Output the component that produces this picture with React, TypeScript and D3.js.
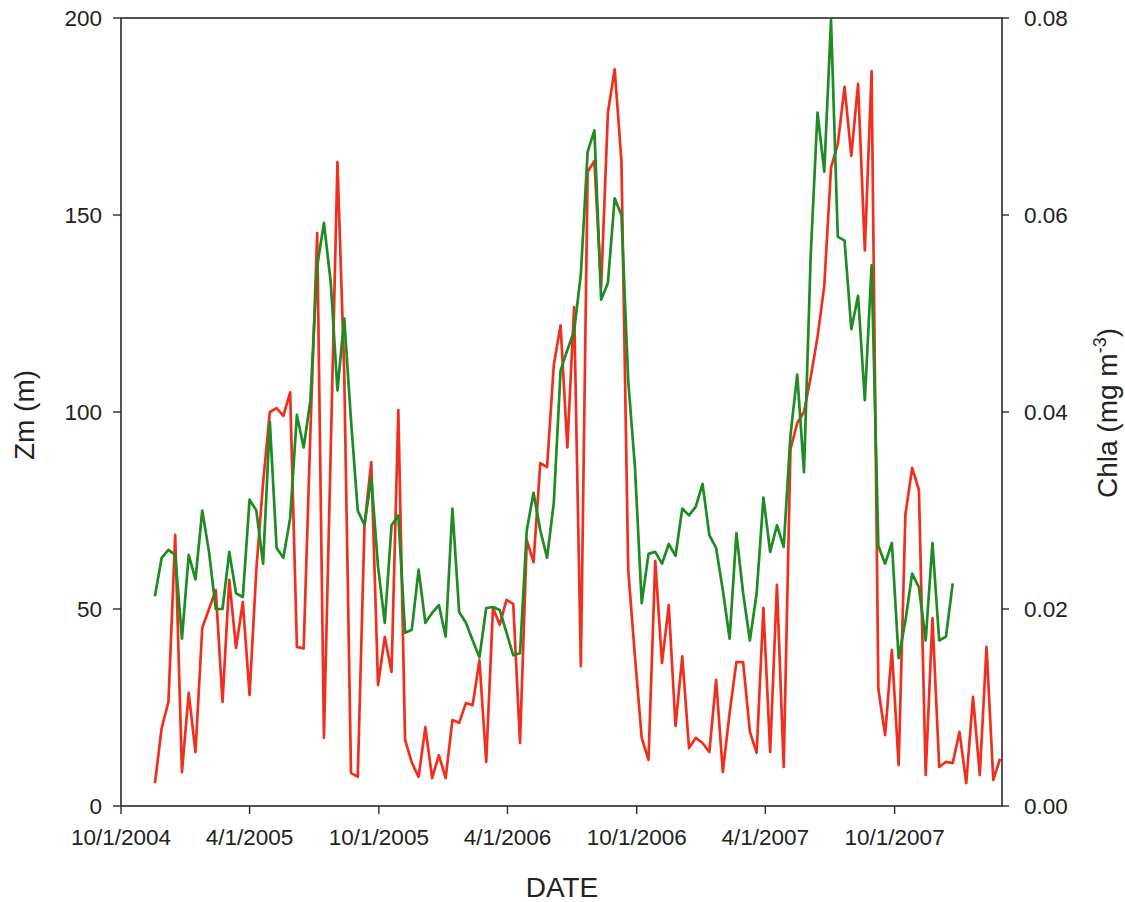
import React from 'react';
import * as d3 from 'd3';

// ---- data ----
const xDomainDates = ['2004-10-01', '2008-03-01'];
const xTickDates = ['2004-10-01', '2005-04-01', '2005-10-01', '2006-04-01', '2006-10-01', '2007-04-01', '2007-10-01'];
const xTickLabels = ['10/1/2004', '4/1/2005', '10/1/2005', '4/1/2006', '10/1/2006', '4/1/2007', '10/1/2007'];
const zmTicks = [0, 50, 100, 150, 200];
const chlaTicks = [0, 0.02, 0.04, 0.06, 0.08];
const seriesStart = '2004-11-18';
const sampleStepDays = 9.57;

// Zm (m) – red, left axis
const zmValues = [
  5.8, 19.8, 26.4, 68.8, 8.6, 28.7, 13.7, 45.2, 50, 54.8,
  26.4, 57.4, 40.1, 51.8, 28.2, 60, 82, 100, 101, 99,
  105, 40.4, 40, 95, 145.4, 17.3, 90, 163.4, 110, 8.4,
  7.4, 71.3, 87.3, 30.7, 42.9, 34, 100.5, 16.8, 11, 7.4,
  20, 7.1, 12.9, 7.1, 21.8, 21.1, 26.1, 25.6, 37, 11.2,
  50.3, 46, 52.3, 51.3, 16, 67.5, 61.9, 87, 86, 112,
  122, 91, 126.6, 35.5, 161, 163.7, 131.7, 176, 187, 163.7,
  60, 38, 17.3, 11.7, 62.2, 36.3, 51, 20.3, 38, 14.7,
  17.3, 16, 13.7, 32, 8.6, 23.6, 36.5, 36.5, 18.8, 13.5,
  50.3, 13.7, 56.1, 9.9, 90.6, 97.2, 100, 108.9, 119, 132,
  162, 168, 182.5, 165, 183.3, 141, 186.5, 29.7, 18, 39.6,
  10.4, 74, 85.8, 80.2, 7.9, 47.7, 9.9, 11.2, 10.9, 18.8,
  5.8, 27.7, 7.9, 40.4, 6.6, 12,
];

// Chla (mg m-3) – green, right axis
const chlaValues = [
  0.0213, 0.0252, 0.0260, 0.0255, 0.0170, 0.0255, 0.0230, 0.0300, 0.0258, 0.0200,
  0.0200, 0.0258, 0.0216, 0.0212, 0.0311, 0.0300, 0.0246, 0.0390, 0.0262, 0.0252,
  0.0292, 0.0397, 0.0364, 0.0412, 0.0548, 0.0592, 0.0532, 0.0422, 0.0495, 0.0392,
  0.0300, 0.0285, 0.0334, 0.0243, 0.0186, 0.0285, 0.0295, 0.0176, 0.0179, 0.0240,
  0.0186, 0.0196, 0.0204, 0.0172, 0.0302, 0.0197, 0.0186, 0.0168, 0.0151, 0.0201,
  0.0202, 0.0199, 0.0176, 0.0153, 0.0155, 0.0280, 0.0318, 0.0280, 0.0252, 0.0308,
  0.0442, 0.0463, 0.0482, 0.0540, 0.0664, 0.0686, 0.0514, 0.0531, 0.0617, 0.0600,
  0.0432, 0.0344, 0.0206, 0.0256, 0.0258, 0.0246, 0.0266, 0.0254, 0.0302, 0.0295,
  0.0304, 0.0327, 0.0275, 0.0262, 0.0219, 0.0170, 0.0277, 0.0216, 0.0168, 0.0216,
  0.0313, 0.0258, 0.0285, 0.0263, 0.0376, 0.0438, 0.0339, 0.0560, 0.0704, 0.0644,
  0.0798, 0.0578, 0.0574, 0.0484, 0.0518, 0.0412, 0.0549, 0.0264, 0.0246, 0.0267,
  0.0150, 0.0188, 0.0236, 0.0222, 0.0168, 0.0267, 0.0168, 0.0172, 0.0226,
];

// ---- layout ----
const W = 1125;
const H = 902;
const plot = { left: 121, right: 1002, top: 18, bottom: 806 };
const RED = '#f0301e';
const GREEN = '#1e8c22';
const AXIS = '#2a2a2a';
const TEXT = '#222';
const FONT = '"Liberation Sans", Arial, Helvetica, sans-serif';
const TICK_FONT = 22.5;
const TITLE_FONT = 28;

const parse = d3.timeParse('%Y-%m-%d');

export default function App() {
  const start = parse(seriesStart) as Date;
  const sampleDate = (i: number) => d3.timeMinute.offset(start, Math.round(i * sampleStepDays * 24 * 60));

  const x = d3
    .scaleTime()
    .domain(xDomainDates.map((d) => parse(d) as Date))
    .range([plot.left, plot.right]);
  const yZm = d3.scaleLinear().domain([0, 200]).range([plot.bottom, plot.top]);
  const yChla = d3.scaleLinear().domain([0, 0.08]).range([plot.bottom, plot.top]);

  const zmLine = d3
    .line<number>()
    .x((_, i) => x(sampleDate(i)))
    .y((d) => yZm(d));
  const chlaLine = d3
    .line<number>()
    .x((_, i) => x(sampleDate(i)))
    .y((d) => yChla(d));

  return (
    <svg
      width={W}
      height={H}
      viewBox={`0 0 ${W} ${H}`}
      style={{ position: 'absolute', left: 0, top: 0, background: '#fff' }}
      fontFamily={FONT}
    >
      <rect x={0} y={0} width={W} height={H} fill="#fff" />
      <defs>
        <clipPath id="plotclip">
          <rect x={plot.left} y={plot.top - 2} width={plot.right - plot.left} height={plot.bottom - plot.top + 2} />
        </clipPath>
      </defs>

      {/* data lines */}
      <g clipPath="url(#plotclip)" fill="none" strokeWidth={2.7} strokeLinejoin="round">
        <path d={zmLine(zmValues) || ''} stroke={RED} />
        <path d={chlaLine(chlaValues) || ''} stroke={GREEN} />
      </g>

      {/* frame */}
      <rect
        x={plot.left}
        y={plot.top}
        width={plot.right - plot.left}
        height={plot.bottom - plot.top}
        fill="none"
        stroke={AXIS}
        strokeWidth={1.6}
      />

      {/* left axis */}
      {zmTicks.map((t) => (
        <g key={'zl' + t}>
          <line x1={plot.left - 8} x2={plot.left} y1={yZm(t)} y2={yZm(t)} stroke={AXIS} strokeWidth={1.4} />
          <text
            x={plot.left - 19}
            y={yZm(t)}
            textAnchor="end"
            dominantBaseline="central"
            fontSize={TICK_FONT}
            fill={TEXT}
          >
            {t}
          </text>
        </g>
      ))}

      {/* right axis */}
      {chlaTicks.map((t) => (
        <g key={'cr' + t}>
          <line x1={plot.right} x2={plot.right + 7} y1={yChla(t)} y2={yChla(t)} stroke={AXIS} strokeWidth={1.4} />
          <text
            x={plot.right + 22}
            y={yChla(t)}
            textAnchor="start"
            dominantBaseline="central"
            fontSize={TICK_FONT}
            fill={TEXT}
          >
            {d3.format('.2f')(t)}
          </text>
        </g>
      ))}

      {/* bottom axis */}
      {xTickDates.map((d, i) => {
        const xx = x(parse(d) as Date);
        return (
          <g key={'xb' + d}>
            <line x1={xx} x2={xx} y1={plot.bottom} y2={plot.bottom + 8} stroke={AXIS} strokeWidth={1.4} />
            <text x={xx} y={plot.bottom + 39} textAnchor="middle" fontSize={TICK_FONT} fill={TEXT}>
              {xTickLabels[i]}
            </text>
          </g>
        );
      })}

      {/* axis titles */}
      <text x={562} y={897} textAnchor="middle" fontSize={TITLE_FONT} fill={TEXT}>
        DATE
      </text>
      <text transform={`translate(34,415) rotate(-90)`} textAnchor="middle" fontSize={TITLE_FONT} fill={TEXT}>
        Zm (m)
      </text>
      <text transform={`translate(1117,413) rotate(-90)`} textAnchor="middle" fontSize={TITLE_FONT} fill={TEXT}>
        Chla (mg m<tspan dy={-11} fontSize={18}>-3</tspan>
        <tspan dy={11}>)</tspan>
      </text>
    </svg>
  );
}
